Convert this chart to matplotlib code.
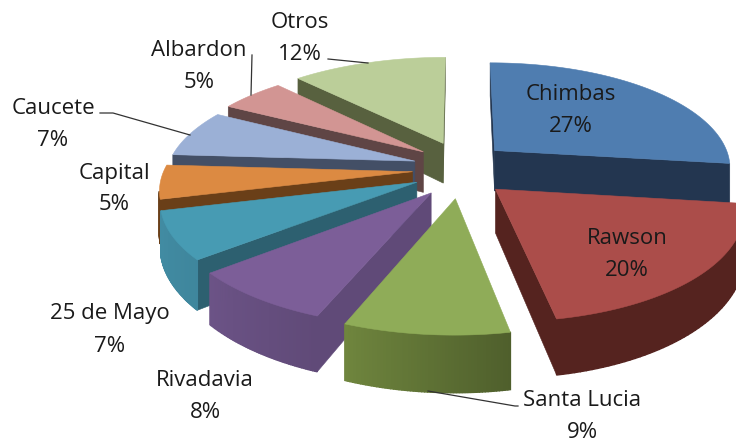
"""
Exploded 3D pie of department shares, drawn as projected polygons.
"""

from __future__ import annotations

import matplotlib

matplotlib.use("Agg")
import matplotlib.pyplot as plt
import numpy as np
from matplotlib.colors import to_rgb
from matplotlib.patches import Polygon


labels = ["Chimbas", "Rawson", "Santa Lucia", "Rivadavia", "25 de Mayo", "Capital", "Caucete", "Albardon", "Otros"]
shares = [27, 20, 9, 8, 7, 5, 7, 5, 12]

top_colors = ["#4F7DB0", "#AB4D4A", "#8FAC58", "#7C5E98", "#479BB3", "#DC8A42", "#9BB0D6", "#D29593", "#BBCE99"]
wall_colors = ["#233650", "#55231F", "#4F5F2C", "#604A78", "#2D6070", "#6A3F18", "#434F66", "#5F4545", "#58613F"]
# wall brightness at the start and the end of each slice
wall_shades = [(1, 1), (1, 1), (1.0, 1.4), (1.0, 1.12), (1.4, 1.45), (1, 1), (1, 1), (1, 1), (1, 1)]

label_xy = [(571, 95), (627, 238), (582, 400), (205, 380), (110, 314), (114, 173), (53, 109), (199, 50), (300, 22)]
LINE_GAP = 32

CX, CY = 460, 169
R = 243
K = 106
P = 0.15
Q = 0.015
DEPTH = 42
EXPLODE_X = 0.195
EXPLODE_Y = 0.27


def project(x, y, z=0.0):
    s = 1 / (1 - P * y)
    return CX + R * x * s * (1 - Q * x), CY + K * y * s + DEPTH * z * s**1.5


def quad(ax, pts, color, lw=0.4):
    pts = np.array(pts)
    x, y = pts[:, 0], pts[:, 1]
    # shoelace, only faces turned to the viewer get drawn
    area = 0.5 * np.sum(x * np.roll(y, -1) - np.roll(x, -1) * y)
    if area > 0:
        return
    ax.add_patch(Polygon(pts, closed=True, fc=color, ec=color, lw=lw))


def draw_slice(ax, start, end, top, wall, shades):
    mid = np.radians((start + end) / 2)
    ox, oy = EXPLODE_X * np.sin(mid), -EXPLODE_Y * np.cos(mid)
    th = np.radians(np.linspace(start, end, 60))
    ex, ey = ox + np.sin(th), oy - np.cos(th)

    tip_top, tip_bot = project(ox, oy), project(ox, oy, 1)
    # the two cut faces
    quad(ax, [project(ex[-1], ey[-1]), tip_top, tip_bot, project(ex[-1], ey[-1], 1)], wall)
    quad(ax, [tip_top, project(ex[0], ey[0]), project(ex[0], ey[0], 1), tip_bot], wall)
    # outer wall, thick edges so the strips show no seams
    base = np.array(to_rgb(wall))
    for i, shade in enumerate(np.linspace(shades[0], shades[1], len(th) - 1)):
        col = np.clip(base * shade, 0, 1)
        quad(ax, [project(ex[i], ey[i]), project(ex[i + 1], ey[i + 1]),
                  project(ex[i + 1], ey[i + 1], 1), project(ex[i], ey[i], 1)], col, lw=1.0)
    face = [project(ox, oy)] + [project(a, b) for a, b in zip(ex, ey)]
    ax.add_patch(Polygon(face, closed=True, fc=top, ec=top, lw=0.4))


def main() -> None:
    fig = plt.figure(figsize=(7.36, 4.42), dpi=100)
    ax = fig.add_axes([0, 0, 1, 1])
    ax.set_xlim(0, 736)
    ax.set_ylim(442, 0)
    ax.axis("off")

    total = sum(shares)
    edges = np.concatenate([[0], np.cumsum(shares)]) / total * 360
    # back slices first so the front ones cover them
    order = sorted(range(len(shares)), key=lambda i: -np.cos(np.radians((edges[i] + edges[i + 1]) / 2)))
    for i in order:
        draw_slice(ax, edges[i], edges[i + 1], top_colors[i], wall_colors[i], wall_shades[i])

    for name, share, (x, y) in zip(labels, shares, label_xy):
        ax.text(x, y, name, ha="center", va="center", fontsize=16, family="Open Sans", color="#1a1a1a")
        ax.text(x, y + LINE_GAP, f"{share}%", ha="center", va="center", fontsize=16,
                family="Open Sans", color="#1a1a1a")

    # leader lines
    ax.plot([100, 113, 190], [113, 113, 135], color="#333333", lw=0.9)
    ax.plot([252, 251], [55, 95], color="#333333", lw=0.9)
    ax.plot([328, 368], [59, 63], color="#333333", lw=0.9)
    ax.plot([428, 515, 518], [391, 406, 406], color="#333333", lw=0.9)

    fig.savefig("out.png", dpi=100)
    plt.close(fig)


if __name__ == "__main__":
    main()
